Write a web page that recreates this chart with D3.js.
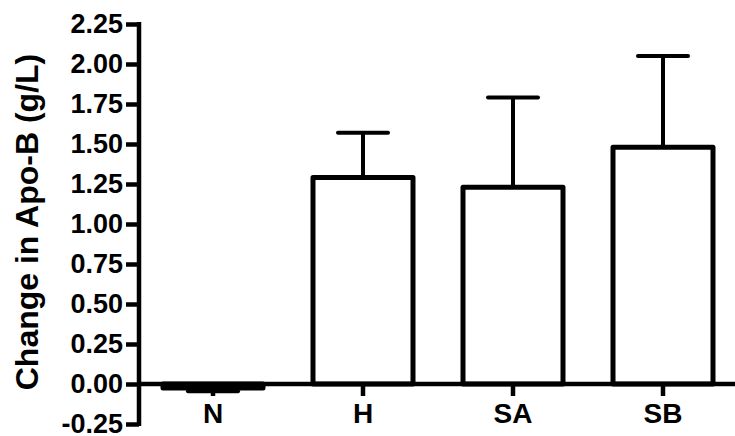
<!DOCTYPE html>
<html>
<head>
<meta charset="utf-8">
<script src="https://cdn.jsdelivr.net/npm/d3@7"></script>
<style>
  body { margin: 0; background: #fff; }
  text { font-family: "Liberation Sans", Arial, sans-serif; font-weight: bold; }
</style>
</head>
<body>
<div id="chart"></div>
<script>
var groups = ["N", "H", "SA", "SB"];
var means = [-0.025, 1.29, 1.23, 1.48];
var errors = [0.02, 0.28, 0.56, 0.57];
var yTicks = [-0.25, 0, 0.25, 0.5, 0.75, 1, 1.25, 1.5, 1.75, 2, 2.25];

var svg = d3.select("#chart").append("svg")
  .attr("width", 735)
  .attr("height", 436);

var y = d3.scaleLinear().domain([-0.25, 2.25]).range([424, 24]);
var x = d3.scaleBand().domain(groups).range([138, 738])
  .paddingInner(1 / 3).paddingOuter(1 / 6);

// bars
groups.forEach(function (g, i) {
  var v = means[i];
  svg.append("rect")
    .attr("x", x(g))
    .attr("y", Math.min(y(0), y(v)))
    .attr("width", x.bandwidth())
    .attr("height", Math.abs(y(v) - y(0)))
    .style("fill", "#fff")
    .style("stroke", "#000")
    .style("stroke-width", 5)
    .style("stroke-linejoin", "round");

  // error bar, away from zero
  var cx = x(g) + x.bandwidth() / 2;
  var end = v >= 0 ? v + errors[i] : v - errors[i];
  var capW = x.bandwidth() / 4;
  svg.append("line")
    .attr("x1", cx).attr("x2", cx)
    .attr("y1", y(v)).attr("y2", y(end))
    .style("stroke", "#000").style("stroke-width", 4);
  svg.append("line")
    .attr("x1", cx - capW).attr("x2", cx + capW)
    .attr("y1", y(end)).attr("y2", y(end))
    .style("stroke", "#000").style("stroke-width", 4)
    .style("stroke-linecap", "round");
});

// y axis
var fmt = function (d) { return d3.format(".2f")(d).replace("\u2212", "-"); };
var yAxis = svg.append("g")
  .attr("transform", "translate(139,0)")
  .call(d3.axisLeft(y).tickValues(yTicks).tickFormat(fmt)
    .tickSize(13).tickSizeOuter(0).tickPadding(3));
yAxis.select(".domain").remove();
yAxis.append("line")
  .attr("x1", 0).attr("x2", 0)
  .attr("y1", y(2.25) - 2).attr("y2", y(-0.25) + 2)
  .style("stroke", "#000").style("stroke-width", 4.5);
yAxis.selectAll(".tick line").style("stroke-width", 4.5);
yAxis.selectAll(".tick text")
  .style("font-size", "27px")
  .style("fill", "#000");

// x axis at zero
var xAxis = svg.append("g")
  .attr("transform", "translate(0," + y(0) + ")")
  .call(d3.axisBottom(x).tickSize(12).tickSizeOuter(0).tickPadding(7));
xAxis.select(".domain").remove();
xAxis.append("line")
  .attr("x1", 139).attr("x2", 735)
  .style("stroke", "#000").style("stroke-width", 4.5);
xAxis.selectAll(".tick line").style("stroke-width", 4.5);
xAxis.selectAll(".tick text")
  .style("font-size", "28px")
  .style("fill", "#000");

// y title
svg.append("text")
  .attr("transform", "translate(38,222) rotate(-90)")
  .attr("text-anchor", "middle")
  .style("font-size", "32px")
  .text("Change in Apo-B (g/L)");
</script>
</body>
</html>
